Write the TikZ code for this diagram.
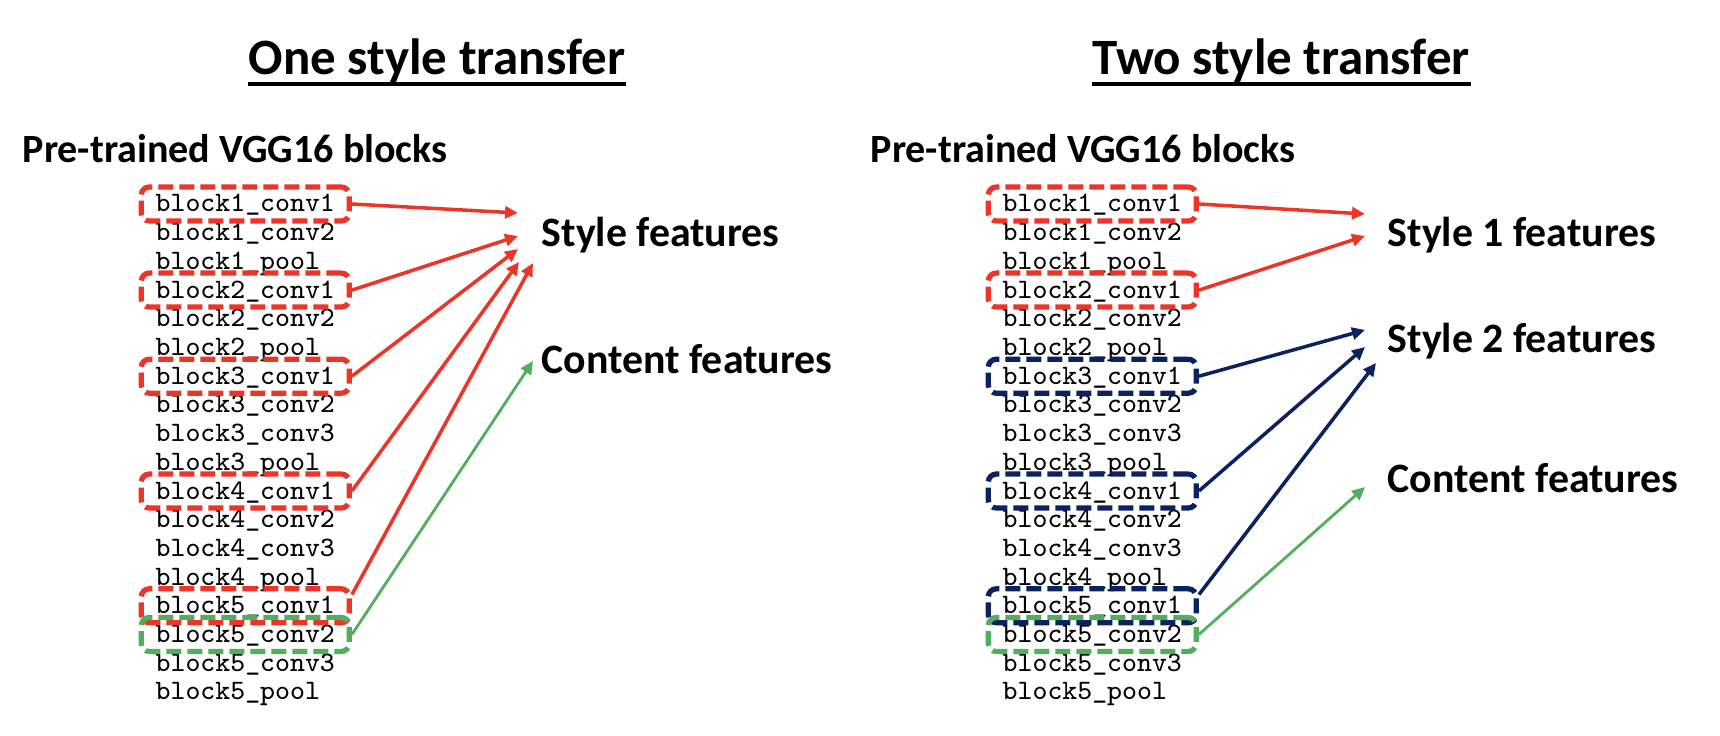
\documentclass[tikz,border=0pt]{standalone}
\usepackage{fontspec}
\setmainfont{Carlito}
\usepackage{tikz}
\usetikzlibrary{arrows.meta, positioning}
\definecolor{vggred}{RGB}{234,53,40}
\definecolor{vggblue}{RGB}{12,34,96}
\definecolor{vggreen}{RGB}{82,174,92}
\tikzstyle{paneltitle} = [inner sep=0, anchor=base, font=\fontsize{14.5}{17}\selectfont\bfseries]
\tikzstyle{heading} = [inner sep=0, anchor=base west, font=\fontsize{11.4}{14}\selectfont\bfseries]
\tikzstyle{feature} = [inner sep=0, anchor=base west, font=\fontsize{11.9}{14}\selectfont\bfseries]
\tikzstyle{layer} = [inner sep=0, anchor=base west, font=\fontsize{8}{9}\selectfont\ttfamily]
\tikzstyle{selbox} = [rectangle, rounded corners=0.8mm, minimum width=20.8mm, minimum height=3.4mm, line width=1.5pt, dash pattern=on 1.5mm off 0.6mm]
\tikzstyle{arrow} = [line width=1pt, -{Triangle[length=1.3mm,width=1.2mm]}]

\begin{document}
\begin{tikzpicture}[x=0.1mm, y=0.1mm]
        \useasboundingbox (0,0) rectangle (1720,-736);
        % Panel titles
        \node (t1) [paneltitle] at (437,-75) {One style transfer};
        \node (t2) [paneltitle] at (1281,-75) {Two style transfer};
        \draw [line width=0.4mm] ([yshift=-0.9mm]t1.base west) -- ([yshift=-0.9mm]t1.base east);
        \draw [line width=0.4mm] ([yshift=-0.9mm]t2.base west) -- ([yshift=-0.9mm]t2.base east);
        \node (h1) [heading] at (22,-163) {Pre-trained VGG16 blocks};
        \node (h2) [heading] at (870,-163) {Pre-trained VGG16 blocks};
        % Layer names, left column L0..L17 and right column R0..R17
        \foreach \nm [count=\i from 0] in {block1\_conv1, block1\_conv2, block1\_pool,
                block2\_conv1, block2\_conv2, block2\_pool,
                block3\_conv1, block3\_conv2, block3\_conv3, block3\_pool,
                block4\_conv1, block4\_conv2, block4\_conv3, block4\_pool,
                block5\_conv1, block5\_conv2, block5\_conv3, block5\_pool} {
            \node (L\i) [layer] at (155,{-212-28.7*\i}) {\nm};
            \node (R\i) [layer] at (1002,{-212-28.7*\i}) {\nm};
        }
        % Feature labels
        \node (lstyle) [feature] at (541,-247) {Style features};
        \node (lcontent) [feature] at (541,-373) {Content features};
        \node (rstyleA) [feature] at (1387,-247) {Style 1 features};
        \node (rstyleB) [feature] at (1387,-352) {Style 2 features};
        \node (rcontent) [feature] at (1387,-492) {Content features};
        % Dashed boxes round the chosen layers
        \node (lb1) [selbox, draw=vggred] at ([yshift=0.8mm]L0.base) {};
        \node (lb2) [selbox, draw=vggred] at ([yshift=0.8mm]L3.base) {};
        \node (lb3) [selbox, draw=vggred] at ([yshift=0.8mm]L6.base) {};
        \node (lb4) [selbox, draw=vggred] at ([yshift=0.8mm]L10.base) {};
        \node (lb5) [selbox, draw=vggred] at ([yshift=0.8mm]L14.base) {};
        \node (lb6) [selbox, draw=vggreen] at ([yshift=0.8mm]L15.base) {};
        \node (rb1) [selbox, draw=vggred] at ([yshift=0.8mm]R0.base) {};
        \node (rb2) [selbox, draw=vggred] at ([yshift=0.8mm]R3.base) {};
        \node (rb3) [selbox, draw=vggblue] at ([yshift=0.8mm]R6.base) {};
        \node (rb4) [selbox, draw=vggblue] at ([yshift=0.8mm]R10.base) {};
        \node (rb5) [selbox, draw=vggblue] at ([yshift=0.8mm]R14.base) {};
        \node (rb6) [selbox, draw=vggreen] at ([yshift=0.8mm]R15.base) {};
        % Arrow ends next to the labels
        \coordinate (ls1) at (518,-213);
        \coordinate (ls2) at (518,-236);
        \coordinate (ls3) at (518,-249);
        \coordinate (ls4) at (519,-262);
        \coordinate (ls5) at (533,-263);
        \coordinate (lc1) at (533,-361);
        \coordinate (rs1) at (1365,-214);
        \coordinate (rs2) at (1365,-236);
        \coordinate (rt1) at (1365,-330);
        \coordinate (rt2) at (1365,-347);
        \coordinate (rt3) at (1376,-363);
        \coordinate (rc1) at (1365,-487);
        % Left panel arrows
        \draw [arrow, vggred] (lb1.east) -- (ls1);
        \draw [arrow, vggred] (lb2.east) -- (ls2);
        \draw [arrow, vggred] (lb3.east) -- (ls3);
        \draw [arrow, vggred] (lb4.east) -- (ls4);
        \draw [arrow, vggred] (lb5.6) -- (ls5);
        \draw [arrow, vggreen, line width=0.8pt] (lb6.east) -- (lc1);
        % Right panel arrows
        \draw [arrow, vggred] (rb1.east) -- (rs1);
        \draw [arrow, vggred] (rb2.east) -- (rs2);
        \draw [arrow, vggblue] (rb3.east) -- (rt1);
        \draw [arrow, vggblue] (rb4.east) -- (rt2);
        \draw [arrow, vggblue] (rb5.6) -- (rt3);
        \draw [arrow, vggreen, line width=0.8pt] (rb6.east) -- (rc1);
    \end{tikzpicture}
\end{document}
